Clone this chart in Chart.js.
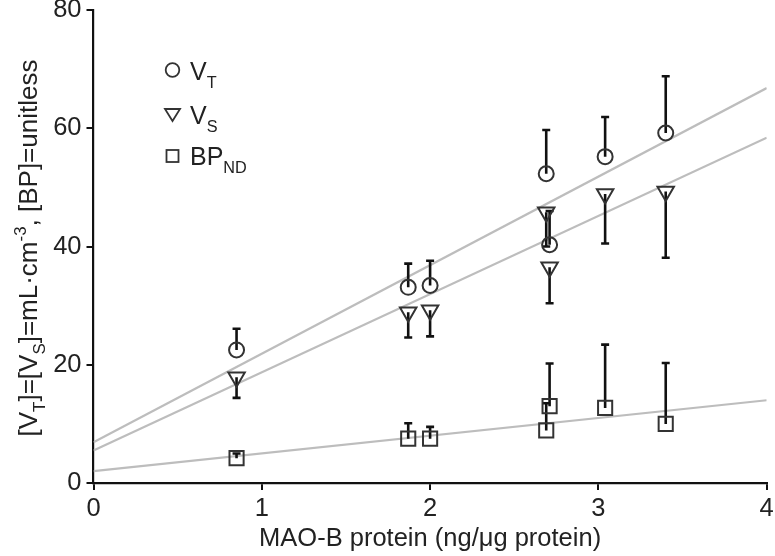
<!DOCTYPE html>
<html>
<head>
<meta charset="utf-8">
<script src="https://cdn.jsdelivr.net/npm/chart.js@4/dist/chart.umd.min.js"></script>
<style>
  html, body { margin: 0; padding: 0; background: #fff; }
  #wrap { width: 775px; height: 556px; }
</style>
</head>
<body>
<div id="wrap"><canvas id="grafico"></canvas></div>
<script>
// Dados
const proteina = [0.85, 1.87, 2.00, 2.69, 2.71, 3.04, 3.40];

const vt = [22.5, 33.1, 33.4, 52.3, 40.3, 55.2, 59.2];
const vtErro = [26.1, 37.1, 37.6, 59.7, 46.0, 61.9, 68.8]; // ponta da barra (acima)

const vs = [17.9, 28.9, 29.2, 45.8, 36.5, 48.9, 49.3];
const vsErro = [14.4, 24.6, 24.8, 40.0, 30.4, 40.5, 38.1]; // ponta da barra (abaixo)

const bp = [4.2, 7.5, 7.5, 8.9, 13.0, 12.7, 10.0];
const bpErro = [5.0, 10.1, 9.5, 13.5, 20.2, 23.4, 20.3]; // ponta da barra (acima)

// Retas de regressão (extremos lidos em x = 0 e x = 4)
const retaX = [0, 4];
const retaVT = [6.9, 66.8];
const retaVS = [5.5, 58.4];
const retaBP = [2.0, 14.0];

const ticksX = [0, 1, 2, 3, 4];
const ticksY = [0, 20, 40, 60, 80];

const FONTE = "'Liberation Sans', Arial, Helvetica, sans-serif";
const COR_MARCA = "#333";
const COR_BARRA = "#111";
const COR_RETA = "#bdbdbd";

function pontos(xs, ys) {
  return xs.map((x, i) => ({ x: x, y: ys[i] }));
}

function serieMarcas(ys, estilo, raio, rotacao) {
  return {
    type: "scatter",
    data: pontos(proteina, ys),
    pointStyle: estilo,
    pointRadius: raio,
    pointHoverRadius: raio,
    rotation: rotacao,
    borderColor: COR_MARCA,
    backgroundColor: "transparent",
    borderWidth: 2,
    order: 1,
  };
}

function serieReta(ys) {
  return {
    type: "line",
    data: pontos(retaX, ys),
    borderColor: COR_RETA,
    borderWidth: 2.2,
    pointRadius: 0,
    fill: false,
    order: 3,
  };
}

// Cada barra de erro é uma linha de dois pontos com um "cap" na ponta
function barrasErro(ys, pontas) {
  return proteina.map((x, i) => ({
    type: "line",
    data: [
      { x: x, y: ys[i] },
      { x: x, y: pontas[i] },
    ],
    borderColor: COR_BARRA,
    borderWidth: 2.6,
    pointStyle: "line",
    pointRadius: [0, 4],
    pointBorderColor: COR_BARRA,
    pointBorderWidth: 2.6,
    fill: false,
    order: 2,
  }));
}

// Escreve trechos com subscrito / sobrescrito
function escreverTrechos(ctx, trechos, x, y, tamanho, centrado) {
  const pesos = { n: 1, sub: 0.65, sup: 0.65 };
  let largura = 0;
  trechos.forEach((t) => {
    ctx.font = tamanho * pesos[t[1]] + "px " + FONTE;
    largura += ctx.measureText(t[0]).width;
  });
  let cx = centrado ? x - largura / 2 : x;
  trechos.forEach((t) => {
    ctx.font = tamanho * pesos[t[1]] + "px " + FONTE;
    let dy = 0;
    if (t[1] == "sub") dy = tamanho * 0.3;
    if (t[1] == "sup") dy = -tamanho * 0.42;
    ctx.fillText(t[0], cx, y + dy);
    cx += ctx.measureText(t[0]).width;
  });
}

const textosExtras = {
  id: "textosExtras",
  afterDraw(chart) {
    const ctx = chart.ctx;
    ctx.save();
    ctx.fillStyle = "#222";
    ctx.textBaseline = "alphabetic";
    ctx.textAlign = "left";

    // Título do eixo Y
    ctx.save();
    ctx.translate(37, 248);
    ctx.rotate(-Math.PI / 2);
    escreverTrechos(
      ctx,
      [
        ["[V", "n"],
        ["T", "sub"],
        ["]=[V", "n"],
        ["S", "sub"],
        ["]=mL\u00b7cm", "n"],
        ["-3", "sup"],
        [", [BP]=unitless", "n"],
      ],
      0,
      0,
      26,
      true
    );
    ctx.restore();

    // Legenda
    const lx = 172.5;
    const tx = 190;
    ctx.strokeStyle = COR_MARCA;
    ctx.lineWidth = 1.8;

    ctx.beginPath();
    ctx.arc(lx, 70, 6.8, 0, Math.PI * 2);
    ctx.stroke();
    escreverTrechos(ctx, [["V", "n"], ["T", "sub"]], tx, 80, 25, false);

    ctx.beginPath();
    ctx.moveTo(lx - 7.5, 109);
    ctx.lineTo(lx + 7.5, 109);
    ctx.lineTo(lx, 121);
    ctx.closePath();
    ctx.stroke();
    escreverTrechos(ctx, [["V", "n"], ["S", "sub"]], tx, 124, 25, false);

    ctx.strokeRect(lx - 6, 150, 12, 12);
    escreverTrechos(ctx, [["BP", "n"], ["ND", "sub"]], tx, 165, 25, false);

    ctx.restore();
  },
};

const ctx = document.querySelector("#grafico").getContext("2d");
const chart = new Chart(ctx, {
  data: {
    datasets: [
      serieMarcas(vt, "circle", 7.5, 0),
      serieMarcas(vs, "triangle", 9.5, 180),
      serieMarcas(bp, "rect", 10, 0),
      ...barrasErro(vt, vtErro),
      ...barrasErro(vs, vsErro),
      ...barrasErro(bp, bpErro),
      serieReta(retaVT),
      serieReta(retaVS),
      serieReta(retaBP),
    ],
  },
  options: {
    responsive: true,
    maintainAspectRatio: false,
    animation: false,
    layout: {
      autoPadding: false,
      padding: { top: 10, right: 8.3, left: 0, bottom: 0 },
    },
    plugins: {
      legend: { display: false },
      tooltip: { enabled: false },
    },
    scales: {
      x: {
        type: "linear",
        min: 0,
        max: 4,
        afterBuildTicks: (s) => {
          s.ticks = ticksX.map((v) => ({ value: v }));
        },
        afterFit: (s) => {
          s.height = 73;
          s.paddingLeft = 0;
          s.paddingRight = 0;
        },
        ticks: {
          color: "#222",
          font: { family: FONTE, size: 25.5 },
          padding: 4,
        },
        grid: {
          drawOnChartArea: false,
          drawTicks: true,
          tickLength: 7,
          color: "#111",
          lineWidth: 2,
        },
        border: { display: true, color: "#111", width: 2.2 },
        title: {
          display: true,
          text: "MAO-B protein (ng/\u03bcg protein)",
          color: "#222",
          font: { family: FONTE, size: 25.5 },
          padding: { top: 0, bottom: 2 },
        },
      },
      y: {
        type: "linear",
        min: 0,
        max: 80,
        afterBuildTicks: (s) => {
          s.ticks = ticksY.map((v) => ({ value: v }));
        },
        afterFit: (s) => {
          s.width = 93.5;
          s.paddingTop = 0;
          s.paddingBottom = 0;
        },
        ticks: {
          color: "#222",
          font: { family: FONTE, size: 25.5 },
          padding: 5,
        },
        grid: {
          drawOnChartArea: false,
          drawTicks: true,
          tickLength: 7,
          color: "#111",
          lineWidth: 2,
        },
        border: { display: true, color: "#111", width: 2.2 },
      },
    },
  },
  plugins: [textosExtras],
});
</script>
</body>
</html>
